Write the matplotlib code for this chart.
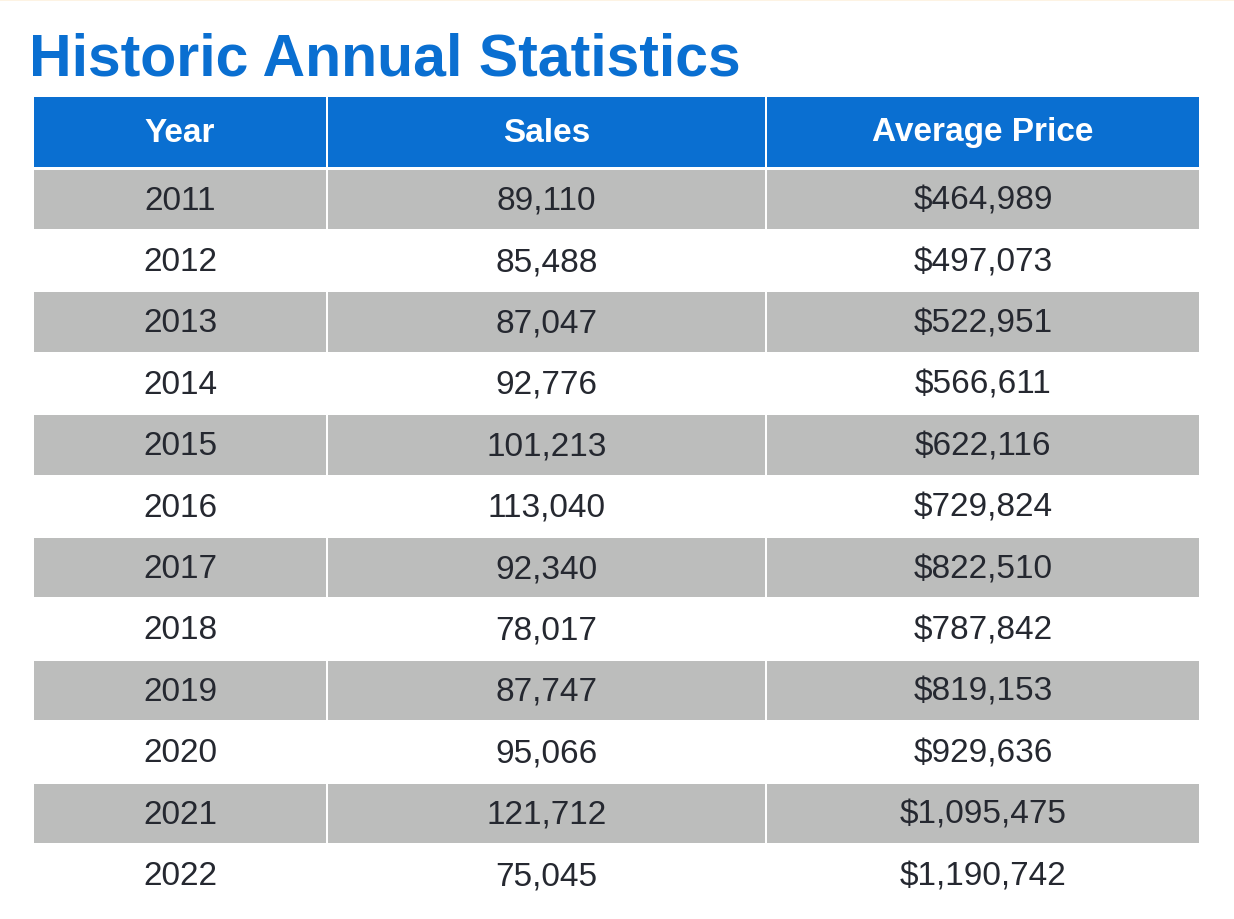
import matplotlib
matplotlib.use('Agg')
import matplotlib.pyplot as plt
from matplotlib.patches import Rectangle

TITLE = 'Historic Annual Statistics'
HEADERS = ['Year', 'Sales', 'Average Price']
YEARS = [2011, 2012, 2013, 2014, 2015, 2016, 2017, 2018, 2019, 2020, 2021, 2022]
SALES = [89110, 85488, 87047, 92776, 101213, 113040, 92340, 78017, 87747, 95066, 121712, 75045]
PRICES = [464989, 497073, 522951, 566611, 622116, 729824, 822510, 787842, 819153, 929636,
          1095475, 1190742]

BLUE = '#0a6fd1'
GRAY = '#bcbdbc'
TEXT = '#252830'

plt.rcParams['font.family'] = ['Liberation Sans', 'DejaVu Sans']

fig = plt.figure(figsize=(12.34, 9.2), dpi=100)
ax = fig.add_axes([0, 0, 1, 1])
ax.set_xlim(0, 1234)
ax.set_ylim(920, 0)
ax.axis('off')

# thin line at the very top
ax.add_patch(Rectangle((0, 0), 1234, 2, color='#fdf3e3', lw=0))

ax.text(29, 60, TITLE, color=BLUE, fontsize=42.5, fontweight='bold', ha='left', va='center')

col_edges = [(34, 326), (328, 765), (767, 1199)]
head_top, head_bot = 98, 168
row_top, pitch = 170.5, 61.4

for (x0, x1), h in zip(col_edges, HEADERS):
    ax.add_patch(Rectangle((x0, head_top), x1 - x0, head_bot - head_top, color=BLUE, lw=0))
    ax.text((x0 + x1) / 2, (head_top + head_bot) / 2, h, color='white', fontsize=24,
            fontweight='bold', ha='center', va='center')

for i, (yr, s, p) in enumerate(zip(YEARS, SALES, PRICES)):
    y0 = row_top + i * pitch
    cells = [str(yr), f'{s:,}', f'${p:,}']
    for (x0, x1), txt in zip(col_edges, cells):
        if i % 2 == 0:
            ax.add_patch(Rectangle((x0, y0), x1 - x0, pitch - 2, color=GRAY, lw=0))
        ax.text((x0 + x1) / 2, y0 + pitch / 2, txt, color=TEXT, fontsize=24,
                ha='center', va='center')

fig.savefig('out.png', dpi=100)
